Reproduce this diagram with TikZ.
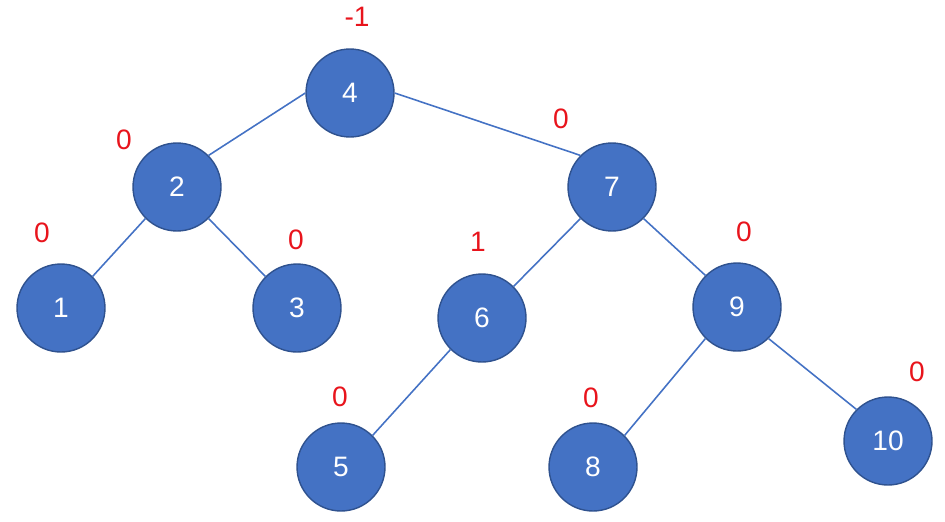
\documentclass[tikz,border=0pt]{standalone}
\usepackage{fontspec}
\setmainfont{Liberation Sans}
\usepackage{tikz}
\definecolor{nodeblue}{HTML}{4472C4}
\definecolor{rimblue}{HTML}{2F528F}
\definecolor{bfred}{HTML}{E8141C}
\begin{document}
\begin{tikzpicture}[x=0.02cm,y=-0.02cm,
    avl/.style={circle,fill=nodeblue,draw=rimblue,line width=0.8pt,minimum size=1.76cm,inner sep=0pt,text=white,font=\fontsize{16}{18}\selectfont},
    bal/.style={text=bfred,font=\fontsize{16}{18}\selectfont},
    edge/.style={draw=nodeblue,line width=0.9pt}]
    \useasboundingbox (0,0) rectangle (945,521);
    \node[avl] (n4) at (350,93) {4};
    \node[avl] (n2) at (177,187) {2};
    \node[avl] (n7) at (612,187) {7};
    \node[avl] (n1) at (61,308) {1};
    \node[avl] (n3) at (297,308) {3};
    \node[avl] (n6) at (482,318) {6};
    \node[avl] (n9) at (737,307) {9};
    \node[avl] (n5) at (341,467) {5};
    \node[avl] (n8) at (593,467) {8};
    \node[avl] (n10) at (888,441) {10};
    \draw[edge] (n4.west) -- (n2.north east);
    \draw[edge] (n4.east) -- (n7.north west);
    \draw[edge] (n2.south west) -- (n1.north east);
    \draw[edge] (n2.south east) -- (n3.north west);
    \draw[edge] (n7.south west) -- (n6.north east);
    \draw[edge] (n7.south east) -- (n9.north west);
    \draw[edge] (n6.south west) -- (n5.north east);
    \draw[edge] (n9.south west) -- (n8.north east);
    \draw[edge] (n9.south east) -- (n10.north west);
    % balance factors
    \node[bal] (b4) at (357,17) {-1};
    \node[bal] (b2) at (124,140) {0};
    \node[bal] (b7) at (561,119) {0};
    \node[bal] (b1) at (42,233) {0};
    \node[bal] (b3) at (296,240) {0};
    \node[bal] (b6) at (478,242) {1};
    \node[bal] (b9) at (744,232) {0};
    \node[bal] (b5) at (340,397) {0};
    \node[bal] (b8) at (591,398) {0};
    \node[bal] (b10) at (917,372) {0};
\end{tikzpicture}
\end{document}
